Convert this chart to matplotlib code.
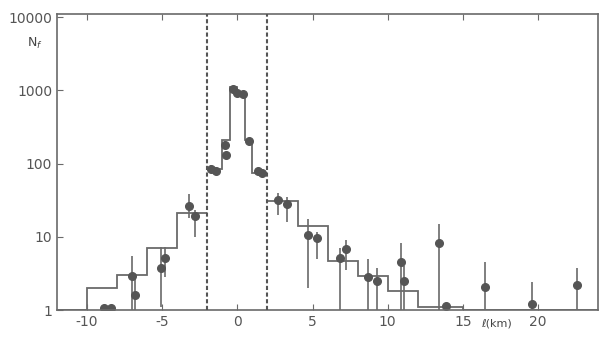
import matplotlib.pyplot as plt
import numpy as np

plt.rcParams['axes.unicode_minus'] = False

# histogram (step) levels
hist_left_edges = [-12, -10, -8, -6, -4, -2]
hist_left_vals = [1.0, 2.0, 3.0, 7.0, 21.0]
hist_mid_edges = [-2, -1, -0.5, 0, 0.5, 1, 2]
hist_mid_vals = [85, 210, 1100, 900, 210, 75]
hist_right_edges = [2, 4, 6, 8, 10, 12, 15, 24]
hist_right_vals = [31, 14, 4.6, 2.9, 1.8, 1.1, 1.0]

# measured points: position, value, lower end, upper end of error bar
pt_x = [-8.9, -8.4, -7.0, -6.8, -5.1, -4.8, -3.2, -2.85,
        -1.75, -1.45, -0.8, -0.75, -0.3, 0.0, 0.35, 0.75, 1.4, 1.65,
        2.7, 3.3, 4.7, 5.3, 6.8, 7.2, 8.7, 9.3, 10.9, 11.1, 13.4, 13.9,
        16.5, 19.6, 22.6]
pt_y = [1.05, 1.05, 2.9, 1.6, 3.7, 5.2, 26, 19,
        85, 80, 180, 130, 1050, 930, 880, 200, 80, 75,
        32, 28, 10.6, 9.7, 5.2, 6.9, 2.8, 2.5, 4.5, 2.5, 8.3, 1.15,
        2.05, 1.2, 2.2]
pt_lo = [1.05, 1.05, 1.0, 1.0, 1.1, 2.8, 18, 10,
         75, 72, 165, 118, 1000, 890, 840, 185, 72, 67,
         20, 16, 2.0, 5.0, 1.0, 3.5, 1.0, 1.0, 1.0, 1.0, 1.0, 1.15,
         1.0, 1.0, 1.0]
pt_hi = [1.05, 1.05, 5.5, 2.9, 7.2, 7.2, 38, 23,
         95, 90, 200, 145, 1110, 980, 920, 215, 88, 83,
         39, 35, 17.5, 11.5, 7.0, 9.1, 5.0, 3.8, 8.3, 4.0, 15, 1.15,
         4.5, 2.4, 3.7]

x_ticks = [-10, -5, 0, 5, 10, 15, 20]
y_ticks = [1, 10, 100, 1000, 10000]
cut_lines = [-2, 2]

ink = '#6a6a6a'
dark = '#555555'

fig = plt.figure(figsize=(6.0, 3.46), dpi=100)
ax = fig.add_axes([0.095, 0.104, 0.902, 0.8555])

for edges, vals in [(hist_left_edges, hist_left_vals),
                    (hist_mid_edges, hist_mid_vals),
                    (hist_right_edges, hist_right_vals)]:
    ax.stairs(vals, edges, baseline=None, color=ink, lw=1.3)

y = np.array(pt_y)
yerr = [y - np.array(pt_lo), np.array(pt_hi) - y]
ax.errorbar(pt_x, pt_y, yerr=yerr, fmt='o', ms=5.5, color=dark,
            ecolor=ink, elinewidth=1.2, capsize=0)

for xc in cut_lines:
    ax.axvline(xc, color=dark, lw=1.5, ls=(0, (2, 1.2)), zorder=3)

ax.set_yscale('log')
ax.set_xlim(-12, 24)
ax.set_ylim(1, 11000)
ax.set_xticks(x_ticks)
ax.set_xticklabels([str(v) for v in x_ticks])
ax.set_yticks(y_ticks)
ax.set_yticklabels([str(v) for v in y_ticks])
ax.minorticks_off()
ax.tick_params(direction='in', top=True, length=4, color=ink,
               labelcolor='#555555', labelsize=10)
for s in ax.spines.values():
    s.set_color(ink)
    s.set_linewidth(1.2)

fig.text(0.058, 0.865, 'N$_f$', fontsize=9, color='#444444', ha='center')
fig.text(0.828, 0.055, 'ℓ(km)', fontsize=8, color='#444444', ha='center')

fig.savefig('out.png', dpi=100)
